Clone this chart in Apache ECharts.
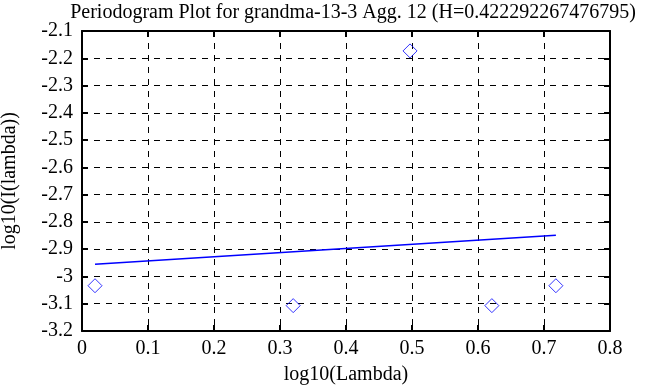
<!DOCTYPE html>
<html><head><meta charset="utf-8">
<script src="https://cdn.jsdelivr.net/npm/echarts@6/dist/echarts.min.js"></script>
<style>html,body{margin:0;padding:0;background:#fff}#c{width:668px;height:387px}</style>
</head><body><div id="c"></div>
<script>
var titleText = 'Periodogram Plot for grandma-13-3 Agg. 12 (H=0.422292267476795)';
var pointsX = [0.0197, 0.32, 0.497, 0.621, 0.718];
var pointsY = [-3.034, -3.107, -2.173, -3.107, -3.034];
var fitX = [0.0197, 0.718];
var fitY = [-2.955, -2.849];
var xTicks = [0, 0.1, 0.2, 0.3, 0.4, 0.5, 0.6, 0.7, 0.8];
var yTicks = [-3.2, -3.1, -3, -2.9, -2.8, -2.7, -2.6, -2.5, -2.4, -2.3, -2.2, -2.1];

var font = 'Liberation Serif';
var fs = 20;
var chart = echarts.init(document.getElementById('c'));
function pairs(xs, ys){ return xs.map(function(x,i){return [x, ys[i]];}); }
var axisBase = {
  axisLine: {show: true, onZero: false, lineStyle: {color: '#000', width: 2}},
  axisTick: {show: true, inside: true, length: 6, lineStyle: {color: '#000', width: 2}},
  splitLine: {show: false}
};
chart.setOption({
  animation: false,
  title: {text: titleText, left: 348, top: -2, textAlign: 'center',
    textStyle: {fontFamily: font, fontSize: fs, fontWeight: 'normal', color: '#000'}},
  grid: {left: 82, right: 58, top: 31, bottom: 56, containLabel: false, outerBoundsMode: 'none'},
  xAxis: [
    Object.assign({type: 'value', min: 0, max: 0.8, interval: 0.1, position: 'bottom',
      name: 'log10(Lambda)', nameLocation: 'middle', nameGap: 34,
      nameTextStyle: {fontFamily: font, fontSize: fs, color: '#000'},
      axisLabel: {fontFamily: font, fontSize: fs, color: '#000', margin: 8,
        formatter: function(v){ var r = +v.toFixed(1); return xTicks.indexOf(r) >= 0 ? String(r) : ''; }}}, axisBase,
      {splitLine: {show: true, lineStyle: {color: '#000', type: [6, 6], width: 1}}}),
    Object.assign({type: 'value', min: 0, max: 0.8, interval: 0.1, position: 'top',
      axisLabel: {show: false}}, axisBase)
  ],
  yAxis: [
    Object.assign({type: 'value', min: -3.2, max: -2.1, interval: 0.1, position: 'left',
      name: 'log10(I(lambda))', nameLocation: 'middle', nameGap: 62, nameRotate: 90,
      nameTextStyle: {fontFamily: font, fontSize: fs, color: '#000'},
      axisLabel: {fontFamily: font, fontSize: fs, color: '#000', margin: 9,
        formatter: function(v){ var r = +v.toFixed(1); return yTicks.indexOf(r) >= 0 ? String(r) : ''; }}}, axisBase,
      {splitLine: {show: true, lineStyle: {color: '#000', type: [6, 6], width: 1}}}),
    Object.assign({type: 'value', min: -3.2, max: -2.1, interval: 0.1, position: 'right',
      axisLabel: {show: false}}, axisBase)
  ],
  series: [
    {type: 'line', data: pairs(fitX, fitY), symbol: 'none',
      lineStyle: {color: '#0000ff', width: 1.5}},
    {type: 'scatter', data: pairs(pointsX, pointsY), symbol: 'diamond', symbolSize: 14,
      itemStyle: {color: 'rgba(0,0,0,0)', borderColor: '#0000ff', borderWidth: 1}}
  ]
});
</script></body></html>
